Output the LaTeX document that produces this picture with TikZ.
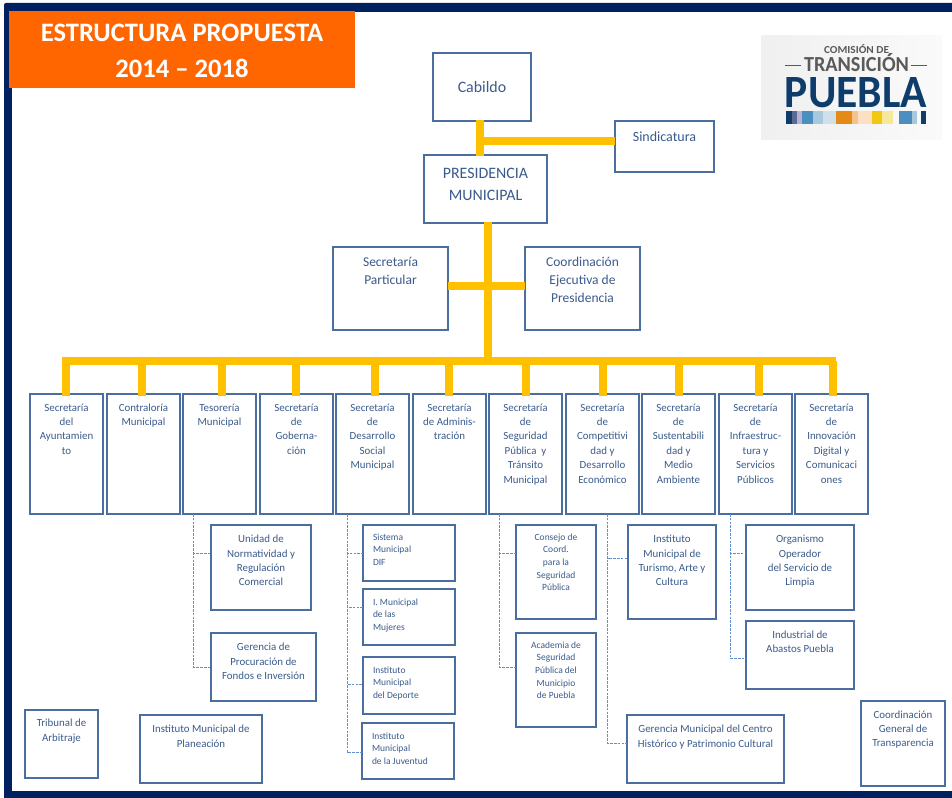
\documentclass[tikz,border=0pt]{standalone}
\usepackage{fontspec}
\usepackage{graphicx}
\setmainfont{Carlito}
\definecolor{navy}{HTML}{00205F}
\definecolor{oran}{HTML}{FF6600}
\definecolor{gold}{HTML}{FFC000}
\definecolor{edge}{HTML}{4A6EA0}
\definecolor{ink}{HTML}{3A5B8C}
\definecolor{dash}{HTML}{5F8FD0}
\definecolor{logonavy}{HTML}{0E3D6B}
\definecolor{logogray}{HTML}{5A5A5A}
\newcommand\fsz[2]{\fontsize{#1pt}{#2pt}\selectfont}
\newcommand\fa{\fsz{10.9}{14.4}}
\newcommand\fb{\fsz{9.5}{12.7}}
\newcommand\fc{\fsz{13.5}{18}}
\newcommand\fd{\fsz{15.9}{22}}
\newcommand\bx[9][\centering]{%
  \pgfmathsetmacro\bxw{#5-#3}\pgfmathsetmacro\bxh{#6-#4}%
  \pgfmathsetmacro\bxcx{(#3+#5)/2}\pgfmathsetmacro\bxcy{(#4+#6)/2}%
  \node[boxn] (#2) at (\bxcx,\bxcy)
   {\parbox[c][\bxh pt][t]{\bxw pt}{#8#1\leavevmode\rule{0pt}{#7pt}#9\par}};}
\tikzset{
  boxn/.style={draw=edge,line width=1.1pt,fill=white,inner sep=0pt,outer sep=0pt,text=ink},
  trunk/.style={draw=gold,line width=8pt},
  subl/.style={draw=dash,line width=1pt,dash pattern=on 2.6pt off 1.2pt},
}
\begin{document}
\begin{tikzpicture}[x=1pt,y=-1pt]
\useasboundingbox (0,0) rectangle (952,797);
\begin{scope}
\clip (0,0) rectangle (952,797);
\fill[navy,rounded corners=2pt] (4,3) rectangle (970,810);
\fill[white] (12,12) rectangle (970,791);
\end{scope}
% title
\node[fill=oran,minimum width=346pt,minimum height=77pt,inner sep=0pt,outer sep=0pt] (title) at (182,49.5) {};
\node[inner sep=0pt,text=white,align=center,font=\bfseries\fsz{26.6}{36}] (titlet) at (182,50.5) {ESTRUCTURA PROPUESTA\\2014 – 2018};
% logo
\shade[left color=black!6,right color=black!2] (761,36) rectangle (942,139);
\node[inner sep=0pt,text=logogray,font=\bfseries] (lg1) at (856.5,49.5) {\resizebox{65pt}{9pt}{COMISIÓN DE}};
\node[inner sep=0pt,text=logogray,font=\bfseries,anchor=base] (lg2) at (856.5,72) {\resizebox{105pt}{18pt}{TRANSICIÓN}};
\node[inner sep=0pt,text=logonavy,font=\bfseries,anchor=base] (lg3) at (856,108) {\resizebox{142pt}{30pt}{PUEBLA}};
\draw[logogray,line width=0.9pt] (785,65) -- ([xshift=-3pt]lg2.west |- 0,65);
\draw[logogray,line width=0.9pt] ([xshift=2pt]lg2.east |- 0,65) -- (927,65);
\foreach \a/\b/\c in {786/792/0E3D6B,792/797/5A6A95,797/802/B4B4D0,802/813/4A8FC0,813/823/A8C8DE,823/836/D0E0EA,836/852/E58A17,852/858/F2C48A,858/872/FBE0C4,872/882/F2C814,882/893/F7E79A,899/912/4A8FC0,912/917/A8C8DE,921/926/0E3D6B}
  {\definecolor{stc}{HTML}{\c}\fill[stc] (\a,111) rectangle (\b,124);}
% top boxes
\bx{cab}{433}{53}{531}{121}{40}{\fd}{Cabildo}
\bx{sin}{615}{121}{714}{172}{20.5}{\fsz{14}{18}}{Sindicatura}
\bx{pres}{424}{155}{547}{223}{23}{\fd}{PRESIDENCIA\\MUNICIPAL}
\bx{sp}{333}{247}{448}{330}{19.7}{\fc}{Secretaría\\Particular}
\bx{co}{525}{247}{640}{330}{19.7}{\fc}{Coordinación\\Ejecutiva de\\Presidencia}
% secretarias
\bx{s1}{30}{394}{103}{514}{17}{\fa}{Secretaría\\del\\Ayuntamien\\to}
\bx{s2}{107}{394}{180}{514}{17}{\fa}{Contraloría\\Municipal}
\bx{s3}{183}{394}{256}{514}{17}{\fa}{Tesorería\\Municipal}
\bx{s4}{260}{394}{333}{514}{17}{\fa}{Secretaría\\de\\Goberna-\\ción}
\bx{s5}{336}{394}{409}{514}{17}{\fa}{Secretaría\\de\\Desarrollo\\Social\\Municipal}
\bx{s6}{413}{394}{486}{514}{17}{\fa}{Secretaría\\de Adminis-\\tración}
\bx{s7}{489}{394}{562}{514}{17}{\fa}{Secretaría\\de\\Seguridad\\Pública\ \ y\\Tránsito\\Municipal}
\bx{s8}{566}{394}{639}{514}{17}{\fa}{Secretaría\\de\\Competitivi\\dad y\\Desarrollo\\Económico}
\bx{s9}{642}{394}{715}{514}{17}{\fa}{Secretaría\\de\\Sustentabili\\dad y\\Medio\\Ambiente}
\bx{s10}{719}{394}{792}{514}{17}{\fa}{Secretaría\\de\\Infraestruc-\\tura y\\Servicios\\Públicos}
\bx{s11}{795}{394}{868}{514}{17}{\fa}{Secretaría\\de\\Innovación\\Digital y\\Comunicaci\\ones}
% dependents
\bx{un}{211}{525}{311}{610}{17.7}{\fa}{Unidad de\\Normatividad y\\Regulación\\Comercial}
\bx{ge}{211}{633}{316}{701}{17.7}{\fa}{Gerencia de\\Procuración de\\Fondos e Inversión}
\bx{tr}{25}{710}{98}{778}{16.7}{\fa}{Tribunal de\\Arbitraje}
\bx{ip}{140}{715}{262}{783}{17.7}{\fa}{Instituto Municipal de\\Planeación}
\bx[\leftskip=10pt\relax]{di}{363}{525}{455}{581}{15}{\fb}{Sistema\\Municipal\\DIF}
\bx[\leftskip=10pt\relax]{mu}{363}{589}{455}{645}{16}{\fb}{I. Municipal\\de las\\Mujeres}
\bx[\leftskip=10pt\relax]{de}{363}{657}{455}{714}{16}{\fb}{Instituto\\Municipal\\del Deporte}
\bx[\leftskip=10pt\relax]{ju}{362}{723}{454}{779}{16}{\fb}{Instituto\\Municipal\\de la Juventud}
\bx{cs}{516}{525}{596}{619}{15}{\fb}{Consejo de\\Coord.\\para la\\Seguridad\\Pública}
\bx{ac}{516}{633}{596}{727}{15}{\fb}{Academia de\\Seguridad\\Pública del\\Municipio\\de Puebla}
\bx{tu}{628}{525}{716}{619}{17.7}{\fa}{Instituto\\Municipal de\\Turismo, Arte y\\Cultura}
\bx{gm}{627}{715}{784}{783}{17.7}{\fa}{Gerencia Municipal del Centro\\Histórico y Patrimonio Cultural}
\bx{or}{746}{525}{854}{610}{17.7}{\fa}{Organismo\\Operador\\del Servicio de\\Limpia}
\bx{in}{746}{621}{854}{689}{17}{\fa}{Industrial de\\Abastos Puebla}
\bx{ct}{861}{701}{945}{786}{17}{\fa}{Coordinación\\General de\\Transparencia}
% gold connectors
\coordinate (busL) at (62,361);
\coordinate (busR) at (836,361);
\coordinate (sinj) at (484,141);
\draw[trunk,line width=7.5pt] ([xshift=-2pt,yshift=1pt]cab.south) -- ([xshift=-5.5pt,yshift=-1pt]pres.north);
\draw[trunk] (sinj) -- (sin.west |- sinj);
\draw[trunk] ([xshift=2.5pt,yshift=1pt]pres.south) -- ([xshift=2.5pt]pres.south |- busL);
\draw[trunk] ([yshift=2.5pt]sp.east) -- ([yshift=2.5pt]co.west);
\draw[trunk] (busL) -- (busR);
\foreach \n/\s in {s1/-0.5,s2/-1.5,s3/2.5,s4/-0.5,s5/2.5,s6/-0.5,s7/0.5,s8/0,s9/0.5,s10/3.5,s11/1.5}
  \draw[trunk] ([xshift=\s pt,yshift=-2pt]\n.north) -- ([xshift=\s pt]\n.north |- busL);
% dashed connectors
\draw[subl] ([xshift=10.5pt]s3.south west) |- ([yshift=14.5pt]un.west);
\draw[subl] ([xshift=10.5pt]s3.south west) |- (ge.west);
\draw[subl] ([xshift=11pt]s5.south west) |- (di.west);
\draw[subl] ([xshift=11pt]s5.south west) |- ([yshift=10pt]mu.west);
\draw[subl] ([xshift=11pt]s5.south west) |- ([yshift=1.5pt]de.west);
\draw[subl] ([xshift=11pt]s5.south west) |- ([yshift=-1pt]ju.west);
\draw[subl] ([xshift=10.5pt]s7.south west) |- ([yshift=19pt]cs.west);
\draw[subl] ([xshift=10.5pt]s7.south west) |- ([yshift=13pt]ac.west);
\draw[subl] ([xshift=41.7pt]s8.south west) |- ([yshift=14pt]tu.west);
\draw[subl] ([xshift=41.7pt]s8.south west) |- ([yshift=5.7pt]gm.west);
\draw[subl] ([xshift=11.3pt]s10.south west) |- ([yshift=14.5pt]or.west);
\draw[subl] ([xshift=11.3pt]s10.south west) |- ([yshift=-3.3pt]in.west);
\end{tikzpicture}
\end{document}
